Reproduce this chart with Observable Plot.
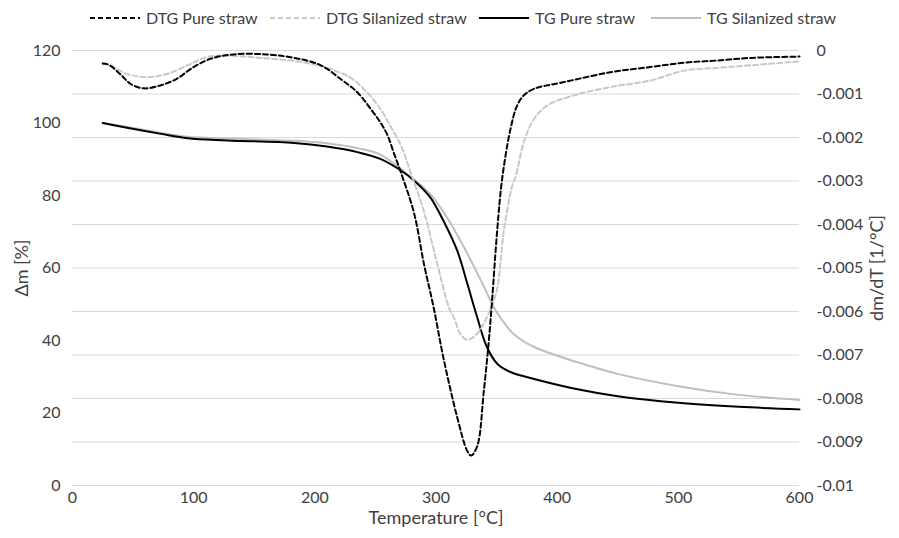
<!DOCTYPE html>
<html><head><meta charset="utf-8">
<script src="https://cdn.jsdelivr.net/npm/d3@7"></script>
<script src="https://cdn.jsdelivr.net/npm/@observablehq/plot@0.6"></script>
<style>
body{margin:0;background:#fff;font-family:Lato,"Open Sans",sans-serif;}
#legend{position:relative;height:36px;width:899px;}
.item{position:absolute;top:8px;display:flex;align-items:center;font-size:16px;color:#404040;white-space:nowrap;}
.item svg{margin-right:6px;}
</style></head>
<body>
<div id="legend"></div>
<div id="chart"></div>
<script>
// ---- data ----
const dtgPureT = [25,30,40,48,59,73,86,100,114,133,160,183,205,221,235,246,254,260,265,271,282,290,298,306,317.5,325.7,329,334,339.5,343.6,346.4,350.5,354.6,361.5,367,372.5,381,405,444,477,505,532,560,600];
const dtgPure  = [-0.00030,-0.00033,-0.00056,-0.00077,-0.00087,-0.00080,-0.00065,-0.00038,-0.00019,-0.00009,-0.00009,-0.00017,-0.00034,-0.00065,-0.00096,-0.00134,-0.00165,-0.00195,-0.00234,-0.00280,-0.00375,-0.00490,-0.00590,-0.00705,-0.00843,-0.00920,-0.00931,-0.00910,-0.00782,-0.00667,-0.00570,-0.00414,-0.00295,-0.00180,-0.00126,-0.00103,-0.00088,-0.00073,-0.00050,-0.00038,-0.00028,-0.00023,-0.00017,-0.00014];
const dtgSilT = [25,30,45,62,78,95,111,128,155,188,210,229,243,254,262,271,279,290,301,310.6,315,320,325.7,334,342,347.7,351,356,363,366,372.5,381,392,414,444,477,505,532,560,600];
const dtgSil  = [-0.00030,-0.00033,-0.00054,-0.00061,-0.00054,-0.00034,-0.00015,-0.00012,-0.00017,-0.00026,-0.00040,-0.00062,-0.00096,-0.00134,-0.00172,-0.00218,-0.00280,-0.00370,-0.00490,-0.00590,-0.00615,-0.00651,-0.00665,-0.00651,-0.00613,-0.00575,-0.00540,-0.00414,-0.00310,-0.00287,-0.00210,-0.00157,-0.00126,-0.00103,-0.00084,-0.00069,-0.00046,-0.00040,-0.00034,-0.00025];
const tgPureT = [25,45,73,95,128,183,210,236,254,271,282,295,306,317.5,326,334,342,350.5,361.5,381,419,450,500,550,600];
const tgPure  = [100,98.7,97.0,95.8,95.2,94.5,93.5,91.9,90.1,86.9,84.1,79.6,73.1,64.8,55.5,46.4,38.2,33.6,31.3,29.4,26.4,24.6,22.8,21.7,21.0];
const tgSilT = [25,45,73,95,128,183,210,236,254,276,295,309,323,337,347.7,353,364,381,419,450,500,550,600];
const tgSil  = [100,98.9,97.3,96.2,95.7,95.1,94.4,93.0,91.3,86.0,80.5,74.0,65.8,56.6,49.2,46.4,41.8,38.2,33.8,30.8,27.4,25.0,23.6];
const xTicks = [0,100,200,300,400,500,600];
const leftTicks = [0,20,40,60,80,100,120];
const rightTicks = [0,-0.001,-0.002,-0.003,-0.004,-0.005,-0.006,-0.007,-0.008,-0.009,-0.01];
const seriesNames = ["DTG Pure straw","DTG Silanized straw","TG Pure straw","TG Silanized straw"];

// ---- styles ----
const styles = [
  {stroke:"#000000", dash:"5,3", width:2},
  {stroke:"#c8c8c8", dash:"5,3", width:2},
  {stroke:"#000000", dash:null, width:2},
  {stroke:"#bfbfbf", dash:null, width:2}
];
const legendX = [90, 270, 479, 651];

// legend
const leg = document.getElementById("legend");
seriesNames.forEach((n,i)=>{
  const s = styles[i];
  const d = document.createElement("div");
  d.className="item"; d.style.left = legendX[i]+"px";
  d.innerHTML = `<svg width="50" height="6"><line x1="0" y1="3" x2="50" y2="3" stroke="${s.stroke}" stroke-width="${s.width}" ${s.dash?`stroke-dasharray="${s.dash}"`:""}/></svg><span>${n}</span>`;
  leg.appendChild(d);
});

const toLeft = d3.scaleLinear().domain([-0.01,0]).range([0,120]);
const rightLab = new Map(rightTicks.map(t=>[toLeft(t), String(t)]));
const rows = (T,V)=>T.map((t,i)=>({t, v:V[i]}));

const chart = Plot.plot({
  width:899, height:502,
  marginTop:14, marginBottom:53, marginLeft:72, marginRight:100,
  style:{fontFamily:"Lato, 'Open Sans', sans-serif", fontSize:"16px", color:"#404040", background:"#fff"},
  x:{domain:[0,600]},
  y:{domain:[0,120]},
  marks:[
    Plot.ruleY(rightTicks, {y:d=>toLeft(d), stroke:"#d9d9d9", strokeWidth:1, strokeOpacity:1}),
    Plot.axisX(xTicks, {tickSize:0, tickPadding:6, fontSize:16, label:null}),
    Plot.axisY(leftTicks, {anchor:"left", tickSize:0, tickPadding:12, fontSize:16, label:null}),
    Plot.axisY(rightTicks.map(t=>toLeft(t)), {anchor:"right", tickSize:0, tickPadding:17, fontSize:16, label:null, textAnchor:"start", tickFormat:v=>rightLab.get(v)}),
    Plot.text(["Temperature [°C]"], {frameAnchor:"bottom", textAnchor:"middle", dy:38, fontSize:18, fill:"#404040"}),
    Plot.text(["Δm [%]"], {frameAnchor:"left", textAnchor:"middle", dx:-50, rotate:-90, fontSize:18, fill:"#404040"}),
    Plot.text(["dm/dT [1/°C]"], {frameAnchor:"right", textAnchor:"middle", dx:78, rotate:-90, fontSize:18, fill:"#404040"}),
    Plot.line(rows(tgSilT,tgSil), {x:"t", y:"v", stroke:styles[3].stroke, strokeWidth:2, curve:"catmull-rom"}),
    Plot.line(rows(tgPureT,tgPure), {x:"t", y:"v", stroke:styles[2].stroke, strokeWidth:2, curve:"catmull-rom"}),
    Plot.line(rows(dtgSilT,dtgSil), {x:"t", y:d=>toLeft(d.v), stroke:styles[1].stroke, strokeWidth:2, strokeDasharray:styles[1].dash, curve:"catmull-rom"}),
    Plot.line(rows(dtgPureT,dtgPure), {x:"t", y:d=>toLeft(d.v), stroke:styles[0].stroke, strokeWidth:2, strokeDasharray:styles[0].dash, curve:"catmull-rom"})
  ]
});
document.getElementById("chart").appendChild(chart);
</script>
</body></html>
